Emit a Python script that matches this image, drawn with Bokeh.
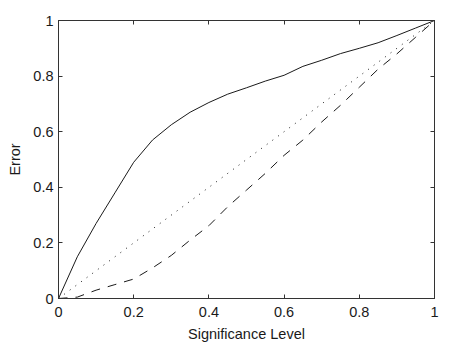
from bokeh.plotting import figure
from bokeh.models import Range1d, FixedTicker, LinearAxis, CustomLabelingPolicy
from bokeh.embed import file_html
from bokeh.resources import INLINE

# Data
sig_level = [0.0, 0.05, 0.1, 0.15, 0.2, 0.25, 0.3, 0.35, 0.4, 0.45, 0.5,
             0.55, 0.6, 0.65, 0.7, 0.75, 0.8, 0.85, 0.9, 0.95, 1.0]
error_solid = [0.0, 0.15, 0.27, 0.38, 0.49, 0.57, 0.625, 0.67, 0.705, 0.735, 0.758,
               0.782, 0.803, 0.835, 0.857, 0.881, 0.900, 0.920, 0.946, 0.973, 1.0]
sig_dotted = [0.0, 1.0]
error_dotted = [0.0, 1.0]
error_dashed = [0.0, 0.005, 0.03, 0.05, 0.07, 0.11, 0.155, 0.21, 0.262, 0.33, 0.39,
                0.45, 0.515, 0.57, 0.635, 0.695, 0.76, 0.825, 0.88, 0.94, 1.0]

tick_values = [0, 0.2, 0.4, 0.6, 0.8, 1]
tick_labels = ["0", "0.2", "0.4", "0.6", "0.8", "1"]

FONT = "Liberation Sans"
FS = "14.5px"
TXT = "#1a1a1a"
AX = "#333333"

p = figure(width=471, height=344, output_backend="svg", toolbar_location=None,
           x_range=Range1d(0, 1), y_range=Range1d(0, 1),
           x_axis_label="Significance Level", y_axis_label="Error",
           min_border_left=58, min_border_top=20, min_border_right=37,
           min_border_bottom=42)
p.background_fill_color = "white"
p.border_fill_color = "white"
p.outline_line_color = AX
p.outline_line_width = 1
p.xgrid.visible = False
p.ygrid.visible = False

overrides = {v: l for v, l in zip(tick_values, tick_labels)}

for ax in (p.xaxis[0], p.yaxis[0]):
    ax.ticker = FixedTicker(ticks=tick_values)
    ax.major_label_overrides = overrides
    ax.major_tick_in = 4
    ax.major_tick_out = 0
    ax.minor_tick_line_color = None
    ax.axis_line_color = AX
    ax.major_tick_line_color = AX
    ax.major_label_text_font = FONT
    ax.major_label_text_font_size = FS
    ax.major_label_text_color = TXT
    ax.axis_label_text_font = FONT
    ax.axis_label_text_font_size = FS
    ax.axis_label_text_font_style = "normal"
    ax.axis_label_text_color = TXT

p.xaxis[0].major_label_standoff = 8
p.xaxis[0].axis_label_standoff = 6
p.yaxis[0].major_label_standoff = 5
p.yaxis[0].axis_label_standoff = 7

hide_all = CustomLabelingPolicy(code="""
    for (const i of Array.from(indices)) indices.unset(i)
    return indices
""")

for loc in ("above", "right"):
    ax = LinearAxis(ticker=FixedTicker(ticks=tick_values))
    ax.major_tick_in = 4
    ax.major_tick_out = 0
    ax.minor_tick_line_color = None
    ax.axis_line_color = AX
    ax.major_tick_line_color = AX
    ax.major_label_policy = hide_all
    ax.major_label_standoff = 0
    p.add_layout(ax, loc)

p.line(sig_level, error_solid, line_color="#1a1a1a", line_width=1)
p.line(sig_dotted, error_dotted, line_color="#1a1a1a", line_width=1, line_dash="1 6")
p.line(sig_level, error_dashed, line_color="#1a1a1a", line_width=1, line_dash="9 8")

open("out.html", "w").write(file_html(p, INLINE))
